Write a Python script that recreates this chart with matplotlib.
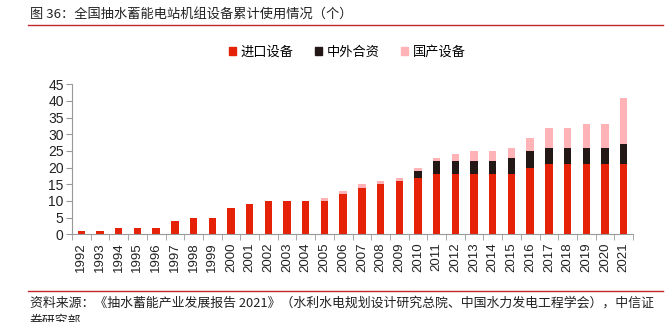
import numpy as np
import matplotlib.pyplot as plt
from matplotlib.patches import Patch

plt.rcParams['font.family'] = ['Liberation Sans', 'Noto Sans CJK SC', 'DejaVu Sans']

# 数据
years = [str(y) for y in range(1992, 2022)]
imported = [1, 1, 2, 2, 2, 4, 5, 5, 8, 9, 10, 10, 10, 10, 12, 14, 15, 16, 17, 18,
            18, 18, 18, 18, 20, 21, 21, 21, 21, 21]
joint = [0, 0, 0, 0, 0, 0, 0, 0, 0, 0, 0, 0, 0, 0, 0, 0, 0, 0, 2, 4,
         4, 4, 4, 5, 5, 5, 5, 5, 5, 6]
domestic = [0, 0, 0, 0, 0, 0, 0, 0, 0, 0, 0, 0, 0, 1, 1, 1, 1, 1, 1, 1,
            2, 3, 3, 3, 4, 6, 6, 7, 7, 14]
labels = ['进口设备', '中外合资', '国产设备']
colors = ['#E52207', '#231815', '#FFB3B6']

cjk = ['Noto Sans CJK SC', 'DejaVu Sans']

fig = plt.figure(figsize=(6.72, 3.22), dpi=100)
ax = fig.add_axes([72 / 672, 1 - 234.3 / 322, 561 / 672, 150 / 322])

x = np.arange(len(years))
w = 0.4
imp = np.array(imported)
jv = np.array(joint)
dom = np.array(domestic)
ax.bar(x, imp, w, color=colors[0])
ax.bar(x, jv, w, bottom=imp, color=colors[1])
ax.bar(x, dom, w, bottom=imp + jv, color=colors[2])

ax.set_xlim(-0.5, len(years) - 0.5)
ax.set_ylim(0, 45)
ax.set_yticks(np.arange(0, 46, 5))
ax.set_xticks(x)
ax.set_xticklabels(years, rotation=90, fontsize=9.5, color='#222222')
ax.set_xticks(np.arange(-0.5, len(years), 1), minor=True)
ax.tick_params(axis='x', which='major', length=0, pad=6)
ax.tick_params(axis='x', which='minor', length=4, color='#999999', direction='out')
ax.tick_params(axis='y', length=4, color='#999999', labelsize=10, labelcolor='#222222', pad=2)

for s in ['top', 'right']:
    ax.spines[s].set_visible(False)
for s in ['left', 'bottom']:
    ax.spines[s].set_color('#999999')
    ax.spines[s].set_linewidth(0.8)

handles = [Patch(color=c) for c in colors]
fig.legend(handles, labels, loc='center', bbox_to_anchor=(347 / 672, 1 - 52 / 322),
           ncol=3, frameon=False, handlelength=0.6, handleheight=0.6,
           handletextpad=0.3, columnspacing=1.6, prop={'family': cjk, 'size': 9.5})

# 标题和来源
fig.text(30 / 672, 1 - 15 / 322, '图 36：全国抽水蓄能电站机组设备累计使用情况（个）',
         fontsize=9.5, family=cjk, va='center', ha='left', color='#222222')
fig.add_artist(plt.Line2D([28 / 672, 663 / 672], [1 - 25 / 322, 1 - 25 / 322],
                          color='#C0282D', linewidth=1))
fig.add_artist(plt.Line2D([28 / 672, 663 / 672], [1 - 290.7 / 322, 1 - 290.7 / 322],
                          color='#C0282D', linewidth=1))
fig.text(30 / 672, 1 - 302.7 / 322,
         '资料来源：《抽水蓄能产业发展报告 2021》（水利水电规划设计研究总院、中国水力发电工程学会），中信证',
         fontsize=9.3, family=cjk, va='center', ha='left', color='#222222')
fig.text(30 / 672, 1 - 321 / 322, '券研究部',
         fontsize=9.3, family=cjk, va='center', ha='left', color='#222222')

fig.savefig('out.png', dpi=100)
